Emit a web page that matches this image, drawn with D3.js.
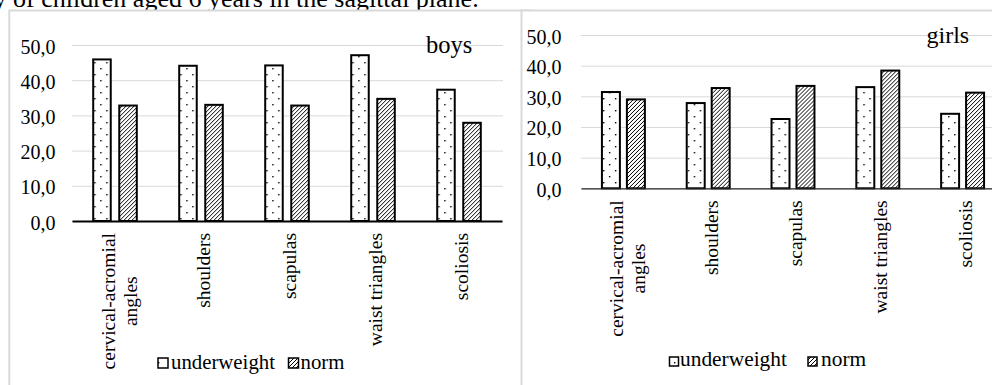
<!DOCTYPE html>
<html>
<head>
<meta charset="utf-8">
<script src="https://cdn.jsdelivr.net/npm/d3@7"></script>
<style>
  html, body { margin: 0; padding: 0; background: #ffffff; }
  svg { display: block; }
  svg text { font-family: "Liberation Serif", "Times New Roman", serif; }
</style>
</head>
<body>
<svg id="chart" width="992" height="385"></svg>
<script>
// ---------------- data ----------------
const categories = ["cervical-acromial angles", "shoulders", "scapulas", "waist triangles", "scoliosis"];
const categoryLabelLines = [["cervical-acromial", "angles"], ["shoulders"], ["scapulas"], ["waist triangles"], ["scoliosis"]];
const series = ["underweight", "norm"];
const boysUnderweight = [45.9, 44.1, 44.2, 47.1, 37.3];
const boysNorm = [32.8, 33.0, 32.8, 34.7, 27.9];
const girlsUnderweight = [31.4, 27.8, 22.6, 33.0, 24.3];
const girlsNorm = [29.0, 32.7, 33.4, 38.4, 31.2];
const yTicks = [0, 10, 20, 30, 40, 50];
const panelTitles = ["boys", "girls"];
const captionText = "y of children aged 6 years in the sagittal plane.";

// ---------------- setup ----------------
const FONT = "'Liberation Serif','Times New Roman',serif";
const svg = d3.select("#chart");
const fmt = v => d3.format(".1f")(v).replace(".", ",");

const defs = svg.append("defs");
const dots = defs.append("pattern").attr("id", "dots")
  .attr("patternUnits", "userSpaceOnUse").attr("width", 12).attr("height", 12);
dots.append("rect").attr("width", 12).attr("height", 12).attr("fill", "#fff");
dots.append("rect").attr("x", 2).attr("y", 2).attr("width", 1.4).attr("height", 1.4).attr("fill", "#000");
dots.append("rect").attr("x", 8).attr("y", 8).attr("width", 1.4).attr("height", 1.4).attr("fill", "#000");

const hatch = defs.append("pattern").attr("id", "hatch")
  .attr("patternUnits", "userSpaceOnUse").attr("width", 4).attr("height", 4);
hatch.append("rect").attr("width", 4).attr("height", 4).attr("fill", "#fff");
hatch.append("path").attr("d", "M0,4 L4,0 M-1,1 L1,-1 M3,5 L5,3")
  .attr("stroke", "#000").attr("stroke-width", 1);

const fills = { underweight: "url(#dots)", norm: "url(#hatch)" };

// caption (clipped at the top of the picture)
svg.append("text").attr("x", -6.5).attr("y", 6.5)
  .attr("font-family", FONT).attr("font-size", 26).attr("fill", "#000")
  .text(captionText);

// panel frames
svg.append("rect").attr("x", 9.3).attr("y", 10.5).attr("width", 520).attr("height", 400)
  .attr("fill", "#fff").attr("stroke", "#d9d9d9").attr("stroke-width", 2);
svg.append("rect").attr("x", 521.5).attr("y", 10.5).attr("width", 500).attr("height", 400)
  .attr("fill", "#fff").attr("stroke", "#d9d9d9").attr("stroke-width", 2);

const panels = [
  { title: panelTitles[0], uw: boysUnderweight, nm: boysNorm,
    x0: 72, x1: 502, yBase: 221, yTop: 45, labelPad: 16.5, subPad: 0.25,
    axisW: 2, axisColor: "#000",
    titleX: 426, titleY: 53, titleSize: 24.5,
    legend: { y: 358, size: 10, textSize: 20.8, items: [{ mx: 158, tx: 171 }, { mx: 288.5, tx: 300.5 }], baseline: 368.5 } },
  { title: panelTitles[1], uw: girlsUnderweight, nm: girlsNorm,
    x0: 581, x1: 1005, yBase: 188.3, yTop: 35, labelPad: 19.5, subPad: 0.2,
    axisW: 1.3, axisColor: "#262626",
    titleX: 926.5, titleY: 42.7, titleSize: 24,
    legend: { y: 357, size: 9, textSize: 21.4, items: [{ mx: 669.5, tx: 680 }, { mx: 808, tx: 821 }], baseline: 366 } }
];

panels.forEach(p => {
  const g = svg.append("g");
  const x0 = d3.scaleBand().domain(categories).range([p.x0, p.x1]).paddingInner(0.47).paddingOuter(0.235);
  const x1 = d3.scaleBand().domain(series).range([0, x0.bandwidth()]).paddingInner(p.subPad);
  const y = d3.scaleLinear().domain([0, 50]).range([p.yBase, p.yTop]);
  const plotW = Math.min(p.x1, 992) - p.x0 + 1;

  // gridlines + y labels
  const ya = g.append("g").attr("transform", `translate(${p.x0},0)`)
    .call(d3.axisLeft(y).tickValues(yTicks).tickSize(-plotW).tickPadding(p.labelPad).tickFormat(fmt));
  ya.attr("font-family", FONT);
  ya.select(".domain").remove();
  ya.selectAll(".tick line").attr("stroke", "#d9d9d9").attr("stroke-width", 1);
  ya.selectAll(".tick text").attr("font-family", FONT).attr("font-size", 20).attr("fill", "#000").attr("dy", "0.4em");

  // bars
  const rows = categories.map((c, i) => ({ cat: c, values: [
    { s: "underweight", v: p.uw[i] }, { s: "norm", v: p.nm[i] }] }));
  const grp = g.selectAll(".cat").data(rows).join("g")
    .attr("transform", d => `translate(${x0(d.cat)},0)`);
  grp.selectAll("rect").data(d => d.values).join("rect")
    .attr("x", d => x1(d.s) + 1)
    .attr("width", x1.bandwidth() - 2)
    .attr("y", d => y(d.v))
    .attr("height", d => y(0) - y(d.v))
    .attr("fill", d => fills[d.s])
    .attr("stroke", "#000").attr("stroke-width", 2);

  // baseline axis
  const xa = g.append("g").attr("transform", `translate(0,${y(0)})`)
    .call(d3.axisBottom(x0).tickSize(0).tickFormat(""));
  xa.select(".domain").attr("stroke", p.axisColor).attr("stroke-width", p.axisW);

  // category labels (rotated)
  categories.forEach((c, i) => {
    const lines = categoryLabelLines[i];
    const cx = x0(c) + x0.bandwidth() / 2;
    const lg = g.append("g").attr("transform", `translate(${cx},${y(0) + 12}) rotate(-90)`);
    const texts = lines.map(l => lg.append("text").attr("font-family", FONT).attr("font-size", 19.5)
      .attr("fill", "#000").text(l));
    const maxLen = d3.max(texts, t => t.node().getComputedTextLength());
    const n = lines.length;
    texts.forEach((t, j) => {
      t.attr("text-anchor", "middle").attr("x", -maxLen / 2)
        .attr("y", 9.3 + (j - (n - 1) / 2) * 22 + (n > 1 ? 1.7 : 0));
    });
  });

  // panel title
  g.append("text").attr("x", p.titleX).attr("y", p.titleY)
    .attr("font-family", FONT).attr("font-size", p.titleSize).attr("fill", "#000").text(p.title);

  // legend
  series.forEach((s, i) => {
    const it = p.legend.items[i];
    g.append("rect").attr("x", it.mx).attr("y", p.legend.y)
      .attr("width", p.legend.size).attr("height", p.legend.size)
      .attr("fill", fills[s]).attr("stroke", "#000").attr("stroke-width", 1.5);
    g.append("text").attr("x", it.tx).attr("y", p.legend.baseline)
      .attr("font-family", FONT).attr("font-size", p.legend.textSize).attr("fill", "#000").text(s);
  });
});
</script>
</body>
</html>
